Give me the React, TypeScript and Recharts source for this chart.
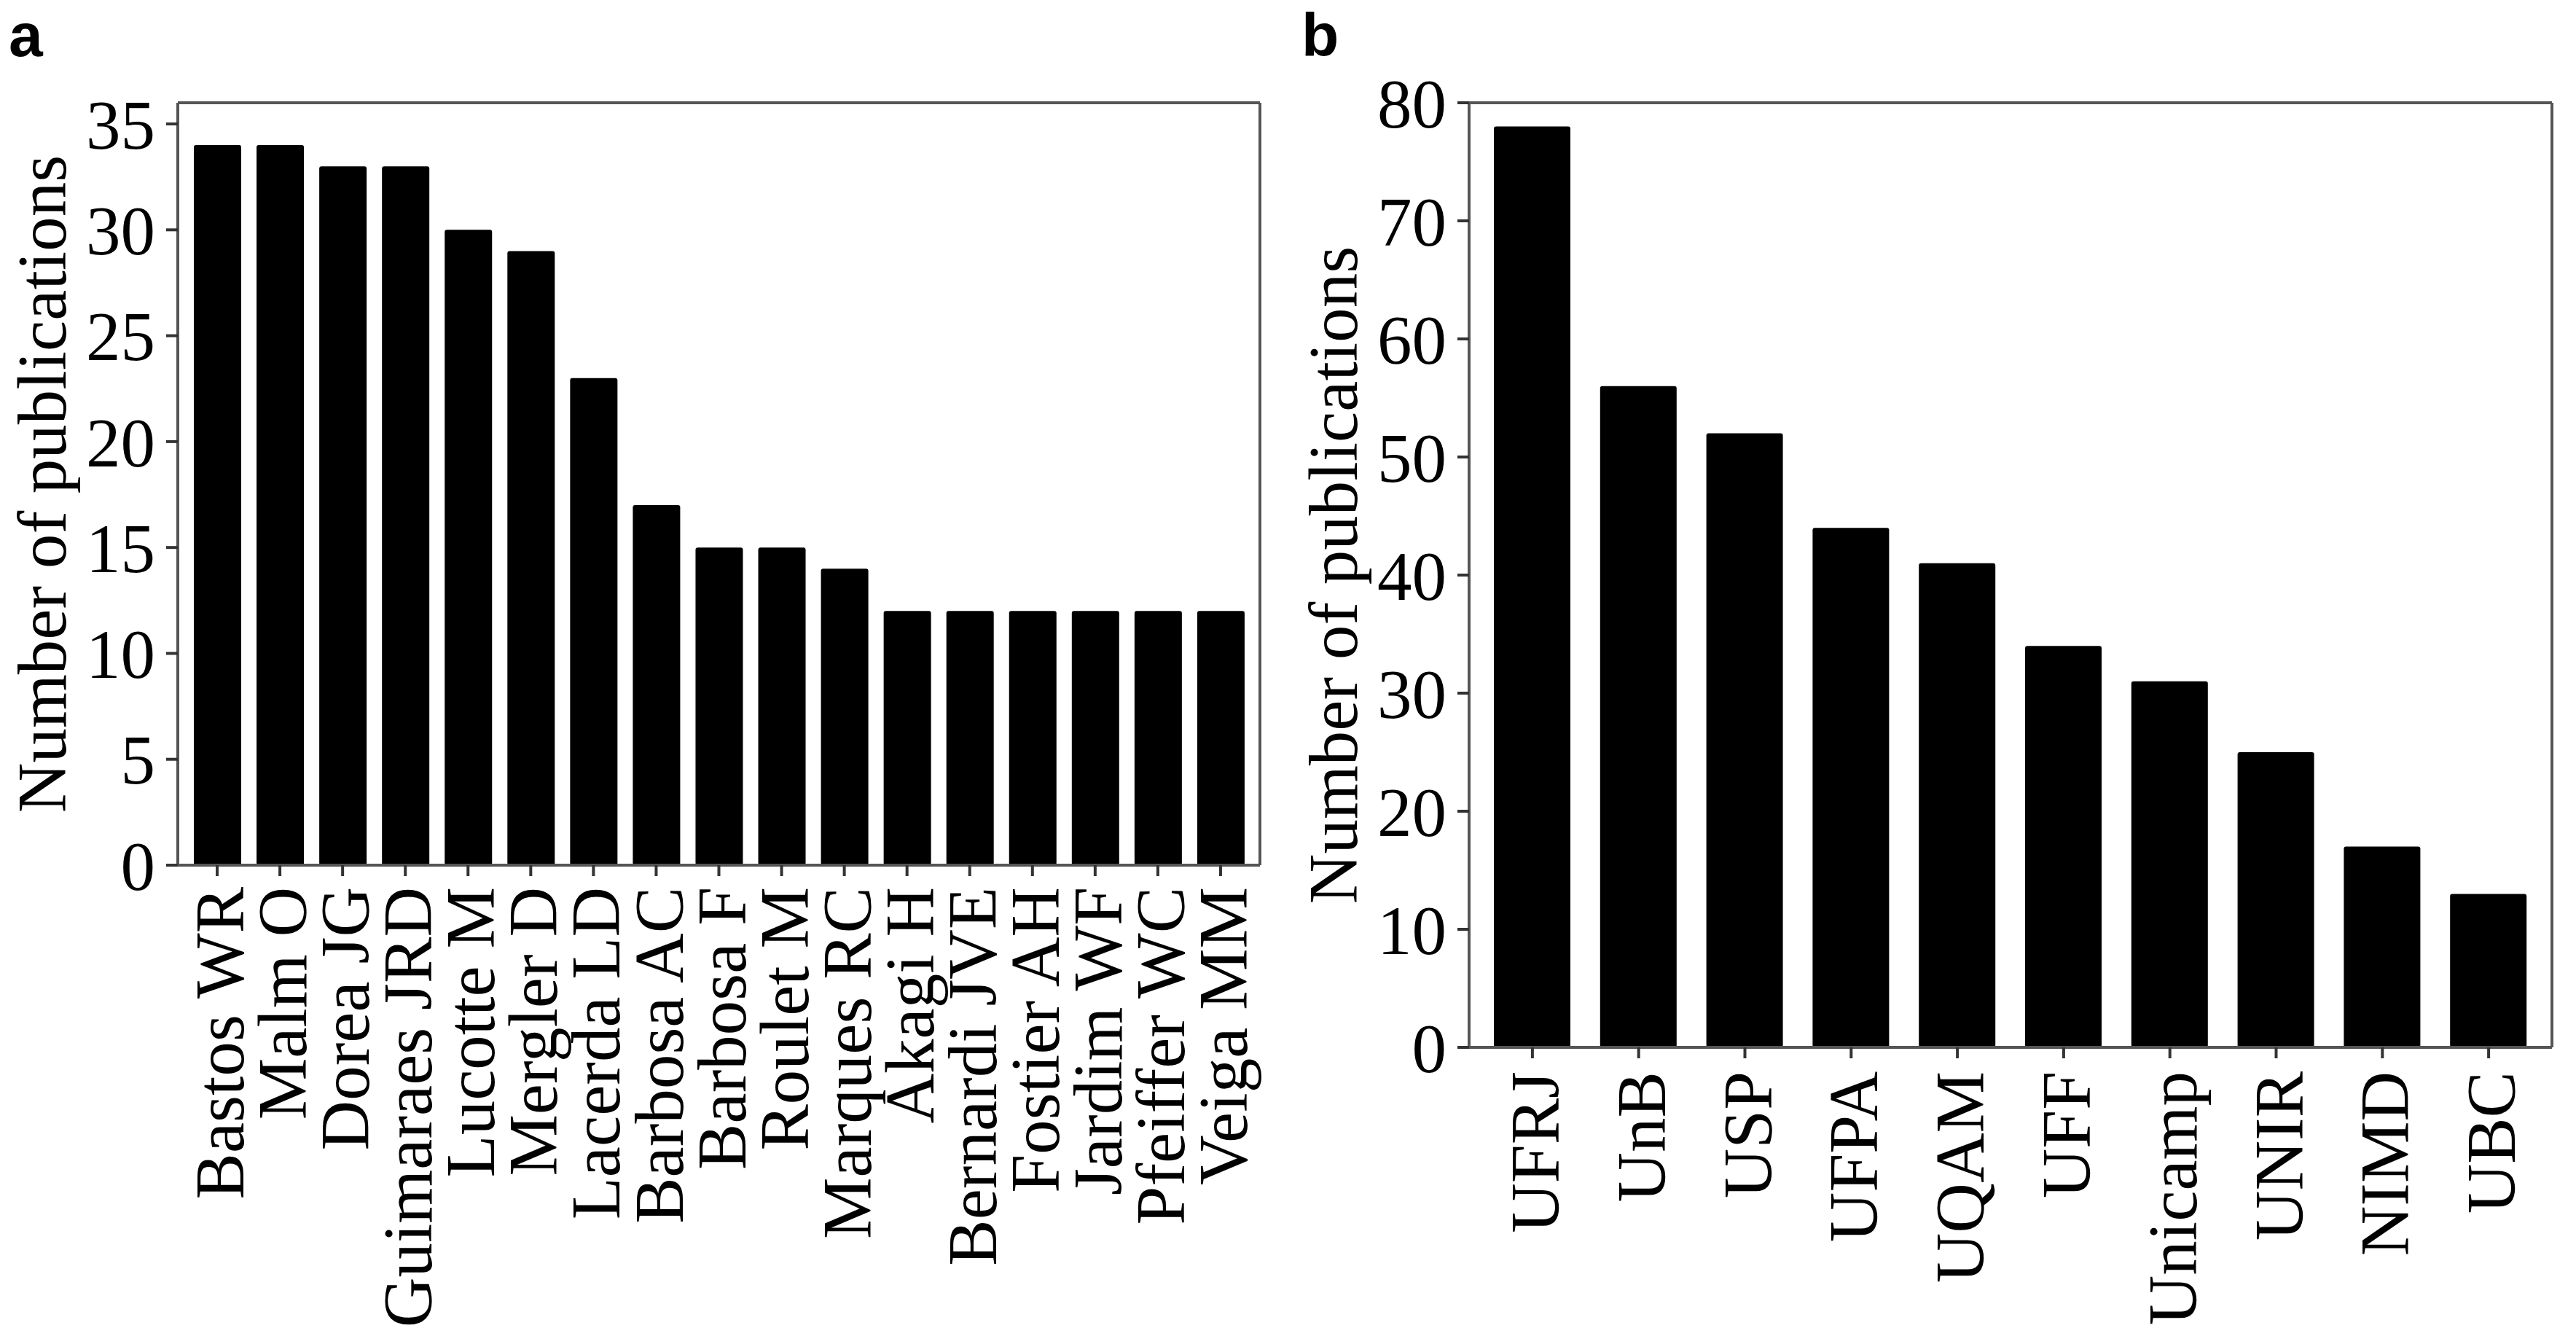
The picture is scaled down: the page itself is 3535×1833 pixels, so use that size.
import { BarChart, Bar, XAxis, YAxis, CartesianGrid } from 'recharts';

// panel a: top authors
const authors = [
  'Bastos WR', 'Malm O', 'Dorea JG', 'Guimaraes JRD', 'Lucotte M', 'Mergler D',
  'Lacerda LD', 'Barbosa AC', 'Barbosa F', 'Roulet M', 'Marques RC', 'Akagi H',
  'Bernardi JVE', 'Fostier AH', 'Jardim WF', 'Pfeiffer WC', 'Veiga MM',
];
const authorCounts = [34, 34, 33, 33, 30, 29, 23, 17, 15, 15, 14, 12, 12, 12, 12, 12, 12];
const authorTicks = [0, 5, 10, 15, 20, 25, 30, 35];

// panel b: top institutions
const institutions = ['UFRJ', 'UnB', 'USP', 'UFPA', 'UQAM', 'UFF', 'Unicamp', 'UNIR', 'NIMD', 'UBC'];
const institutionCounts = [78, 56, 52, 44, 41, 34, 31, 25, 17, 13];
const institutionTicks = [0, 10, 20, 30, 40, 50, 60, 70, 80];

const yTitle = 'Number of publications';

const authorData = authors.map((name, i) => ({ name, value: authorCounts[i] }));
const institutionData = institutions.map((name, i) => ({ name, value: institutionCounts[i] }));

const SERIF = '"Liberation Serif", "Times New Roman", serif';
const FRAME = '#555555';
const TICK = '#333333';
const FONT = 95;

const RotatedTick = (props: any) => {
  const { x, y, payload } = props;
  return (
    <text
      x={x}
      y={y}
      dy="0.38em"
      transform={`rotate(-90, ${x}, ${y})`}
      textAnchor="end"
      fontFamily={SERIF}
      fontSize={FONT}
      fill="#000"
    >
      {payload.value}
    </text>
  );
};

const makeYTitle = (baseX: number, centerY: number) => () => (
  <text
    x={baseX}
    y={centerY}
    transform={`rotate(-90, ${baseX}, ${centerY})`}
    textAnchor="middle"
    fontFamily={SERIF}
    fontSize={FONT}
    fill="#000"
  >
    {yTitle}
  </text>
);

// top and right edges of the box around the plot
const topEdge = ({ offset }: any) => [offset.top];
const rightEdge = ({ offset }: any) => [offset.left + offset.width];

interface PanelProps {
  data: { name: string; value: number }[];
  ticks: number[];
  yMax: number;
  width: number;
  height: number;
  top: number;
  right: number;
  yAxisWidth: number;
  xAxisHeight: number;
  barSize: number;
  pad: number;
  tickMargin: number;
}

const Panel = (p: PanelProps) => {
  const plotH = p.height - p.top - p.xAxisHeight;
  return (
    <BarChart
      width={p.width}
      height={p.height}
      data={p.data}
      margin={{ top: p.top, right: p.right, left: 0, bottom: 0 }}
    >
      <CartesianGrid
        stroke={FRAME}
        strokeWidth={4}
        horizontalCoordinatesGenerator={topEdge}
        verticalCoordinatesGenerator={rightEdge}
      />
      <XAxis
        dataKey="name"
        interval={0}
        height={p.xAxisHeight}
        padding={{ left: p.pad, right: p.pad }}
        tick={<RotatedTick />}
        tickSize={15}
        tickMargin={p.tickMargin}
        axisLine={{ stroke: FRAME, strokeWidth: 4 }}
        tickLine={{ stroke: TICK, strokeWidth: 4 }}
      />
      <YAxis
        type="number"
        domain={[0, p.yMax]}
        ticks={p.ticks}
        width={p.yAxisWidth}
        tickSize={16}
        tickMargin={15}
        axisLine={{ stroke: FRAME, strokeWidth: 4 }}
        tickLine={{ stroke: TICK, strokeWidth: 4 }}
        tick={{ fontFamily: SERIF, fontSize: FONT, fill: '#000' }}
        label={makeYTitle(p.yAxisWidth - 154, p.top + plotH / 2)}
      />
      <Bar dataKey="value" fill="#000" barSize={p.barSize} radius={3} isAnimationActive={false} />
    </BarChart>
  );
};

export default function App() {
  return (
    <div style={{ position: 'absolute', left: 0, top: 0, width: 3535, height: 1833, background: '#fff' }}>
      <div style={{ position: 'absolute', left: 0, top: 0 }}>
        <Panel
          data={authorData}
          ticks={authorTicks}
          yMax={36}
          width={1760}
          height={1833}
          top={141}
          right={31}
          yAxisWidth={244}
          xAxisHeight={646}
          barSize={65}
          pad={11}
          tickMargin={15}
        />
      </div>
      <div style={{ position: 'absolute', left: 1760, top: 0 }}>
        <Panel
          data={institutionData}
          ticks={institutionTicks}
          yMax={80}
          width={1775}
          height={1833}
          top={141}
          right={33}
          yAxisWidth={256}
          xAxisHeight={396}
          barSize={105}
          pad={14}
          tickMargin={18}
        />
      </div>
      <svg
        width={3535}
        height={1833}
        style={{ position: 'absolute', left: 0, top: 0, pointerEvents: 'none' }}
      >
        <text x={12} y={77} fontFamily='"Liberation Sans", Arial, sans-serif' fontWeight="bold" fontSize={84} fill="#000">
          a
        </text>
        <text x={1786} y={77} fontFamily='"Liberation Sans", Arial, sans-serif' fontWeight="bold" fontSize={84} fill="#000">
          b
        </text>
      </svg>
    </div>
  );
}
